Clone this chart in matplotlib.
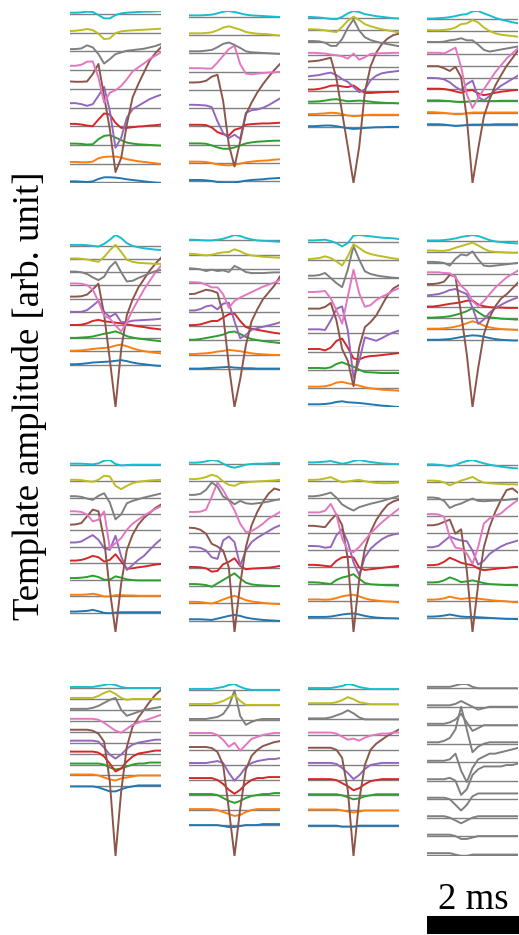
import numpy as np
import matplotlib.pyplot as plt

# time axis of each template (ms), 17 samples over 2 ms
t_ms = [0.0, 0.125, 0.25, 0.375, 0.5, 0.625, 0.75, 0.875, 1.0,
        1.125, 1.25, 1.375, 1.5, 1.625, 1.75, 1.875, 2.0]

channel_colors = ['tab:blue', 'tab:orange', 'tab:green', 'tab:red', 'tab:purple',
                  'tab:brown', 'tab:pink', 'tab:gray', 'tab:olive', 'tab:cyan']

# templates, one list per channel, bottom channel first (arb. unit)
r1c1 = [
    [3, 3, 2, 1, 3, 10, 15, 15, 14, 12, 9, 7, 5, 3, 1, -1, -2],
    [5, 5, 4, 4, 6, 16, 20, 21, 21, 18, 13, 10, 7, 5, 3, 1, -1],
    [4, 4, 3, 1, 2, 17, 27, 29, 22, 14, 7, 4, 2, 1, 0, -1, -2],
    [7, 7, 5, 2, 0, 20, 38, 35, 10, -5, -5, -3, -1, 0, 2, 3, 5],
    [13, 13, 10, 5, 10, 35, 62, -10, -120, -90, -30, -5, 5, 15, 25, 32, 38],
    [22, 21, 21, 22, 44, 74, -23, -120, -248, -206, -106, -26, 14, 49, 84, 106, 124],
    [13, 13, 16, 25, 26, -22, -97, -67, -60, -47, -27, -4, 8, 20, 33, 43, 53],
    [7, 7, 9, 18, 12, -8, -36, -23, -8, -3, 2, 4, 6, 8, 12, 16, 22],
    [5, 6, 8, 11, 8, -3, -19, -17, -1, 4, 6, 7, 8, 9, 10, 11, 12],
    [4, 4, 5, 7, 6, -3, -13, -13, -3, 2, 4, 5, 6, 7, 7, 8, 9],
]
r1c2 = [
    [4, 4, 4, 3, 1, -2, -4, -5, -4, -1, 2, 4, 5, 6, 8, 9, 10],
    [4, 4, 4, 3, 0, -4, -6, -7, -5, -2, 2, 4, 6, 7, 8, 10, 11],
    [4, 4, 4, 3, -2, -8, -12, -12, -8, -2, 4, 7, 9, 10, 11, 12, 12],
    [5, 5, 5, 4, -3, -17, -23, -27, -10, -5, 5, 7, 8, 9, 9, 10, 11],
    [10, 10, 9, 8, 3, -39, -74, -89, -79, -91, -14, -6, -4, 1, 9, 19, 29],
    [22, 22, 23, 27, 39, 45, -33, -163, -228, -153, -73, -38, -8, 17, 39, 59, 77],
    [10, 10, 10, 9, 9, 27, 47, 67, 77, 22, -6, -8, -6, -4, -3, -2, -1],
    [6, 6, 6, 8, 10, 18, 28, 32, 25, 16, 6, 3, 2, 1, 0, -1, -2],
    [5, 5, 5, 6, 8, 14, 22, 26, 21, 16, 9, 6, 4, 3, 2, 0, -2],
    [4, 4, 4, 5, 6, 10, 15, 17, 14, 10, 6, 4, 3, 2, 1, 0, -1],
]
r1c3 = [
    [3, 3, 4, 5, 5, 3, 0, -3, -5, -4, -2, -1, 0, 0, 1, 1, 1],
    [3, 3, 4, 5, 7, 6, 3, -1, -3, -2, 0, 1, 1, 1, 1, 1, 1],
    [4, 4, 5, 7, 10, 11, 8, 5, 6, 7, 6, 4, 2, 1, 0, 0, -1],
    [4, 4, 6, 10, 15, 16, 13, 11, 16, 4, -6, -6, -5, -4, -3, -3, -2],
    [7, 9, 11, 15, 18, 11, -1, -9, -24, -39, -31, -4, 9, 16, 19, 21, 23],
    [15, 16, 18, 22, 26, -34, -134, -234, -339, -234, -74, 1, 41, 66, 82, 92, 96],
    [5, 5, 4, 3, 0, -2, -5, -12, 3, -15, -8, 2, 3, 4, 4, 5, 5],
    [4, 4, 3, -1, -10, -10, 10, 43, 67, 35, 15, 7, 2, -2, -5, -8, -11],
    [3, 3, 2, 0, -3, -5, 10, 28, 40, 30, 18, 12, 7, 3, 0, -3, -6],
    [4, 3, 2, 0, -2, -3, 4, 14, 21, 18, 12, 9, 6, 4, 2, 0, -1],
]
r1c4 = [
    [1, 1, 1, 0, -2, -4, -3, -1, 0, 0, 0, 0, 1, 1, 1, 1, 1],
    [2, 2, 1, 0, -2, -4, -4, -1, 1, 1, 1, 1, 1, 1, 1, 1, 1],
    [2, 2, 2, 1, 0, -2, -3, -2, 0, 1, 0, 0, 0, 1, 1, 1, 1],
    [2, 2, 2, 1, -2, -6, -10, -4, -2, -12, -17, -14, -10, -7, -5, -3, -2],
    [-1, -1, -2, -5, -14, -27, -37, -19, -9, -57, -67, -54, -37, -24, -14, -4, 6],
    [-1, -1, -1, -7, -15, -3, -33, -153, -343, -243, -148, -98, -58, -28, 0, 22, 45],
    [4, 4, 4, 2, 10, 19, -38, -118, -158, -128, -103, -78, -53, -33, -13, 2, 17],
    [1, 1, 1, 2, 6, 8, 12, 6, 6, -7, -22, -27, -24, -21, -18, -15, -12],
    [2, 1, 1, 2, 4, 9, 19, 21, 31, 24, 9, -1, -8, -12, -14, -16, -18],
    [1, 1, 2, 3, 5, 8, 12, 14, 22, 23, 16, 10, 3, -2, -6, -10, -13],
]
r2c1 = [
    [1, 1, 2, 4, 6, 7, 8, 9, 11, 13, 10, 6, 3, 1, -1, -3, -4],
    [2, 2, 3, 5, 7, 9, 10, 12, 17, 20, 15, 9, 4, 1, -2, -4, -6],
    [1, 1, 2, 3, 5, 9, 13, 16, 20, 14, 6, 2, -1, -3, -5, -7, -9],
    [0, 0, 1, 5, 12, 15, 11, 9, 7, 5, 2, -1, -4, -6, -9, -11, -13],
    [0, 0, 0, 5, 18, 32, 0, -15, -5, -30, -30, -26, -25, -24, -23, -22, -20],
    [6, 6, 7, 12, 27, 44, -47, -179, -318, -148, -48, -3, 32, 57, 82, 102, 120],
    [6, 6, 5, 1, -12, -47, -89, -97, -117, -135, -107, -72, -42, -12, 13, 38, 58],
    [2, 2, 0, -5, -15, -23, -13, 15, 31, 0, -27, -25, -17, -10, -3, 3, 7],
    [2, 2, 1, -1, -5, -8, 6, 26, 42, 21, -2, -8, -11, -12, -13, -14, -14],
    [3, 3, 3, 2, 0, -2, 6, 18, 32, 23, 8, 0, -4, -7, -9, -11, -12],
]
r2c2 = [
    [1, 1, 1, 2, 3, 4, 5, 6, 4, 3, 2, 2, 1, 1, 1, 1, 1],
    [2, 2, 3, 4, 6, 9, 11, 14, 12, 10, 7, 4, 2, 1, 0, -1, -1],
    [2, 2, 4, 7, 10, 13, 17, 24, 26, 19, 10, 4, 1, -2, -4, -6, -8],
    [3, 3, 5, 10, 15, 15, 25, 35, 37, 15, -3, -8, -11, -14, -17, -20, -22],
    [4, 4, 8, 16, 19, 7, 24, 27, -28, -78, -68, -53, -48, -44, -40, -36, -31],
    [10, 11, 17, 23, 20, 14, -50, -200, -322, -240, -140, -70, -35, -5, 15, 35, 62],
    [3, 3, 2, -4, -12, -12, -32, -72, -52, -42, -34, -26, -18, -10, -4, 2, 10],
    [2, 1, -1, -6, -2, -6, -4, -9, 9, 1, -9, -12, -12, -12, -11, -10, -10],
    [3, 2, 0, -2, 0, 4, 7, 8, 16, 10, 2, -2, -4, -6, -7, -8, -9],
    [2, 2, 1, 0, 0, 2, 5, 10, 16, 13, 7, 3, 0, -1, -2, -3, -4],
]
r2c3 = [
    [7, 7, 7, 8, 10, 14, 16, 13, 12, 11, 9, 7, 5, 3, 2, 0, -1],
    [5, 5, 5, 6, 10, 17, 19, 15, 12, 8, 3, 0, -2, -4, -5, -6, -7],
    [6, 6, 6, 5, 8, 18, 23, 16, 10, 1, -6, -7, -8, -9, -9, -9, -9],
    [8, 8, 8, 4, 12, 32, 39, 12, -20, -23, -16, -13, -12, -10, -8, -6, -4],
    [12, 12, 12, 10, 38, 73, 80, 8, -132, -82, -12, -17, -22, -14, -5, 3, 8],
    [19, 19, 19, 24, 36, -16, -101, -136, -211, -96, -36, -21, -1, 29, 59, 79, 89],
    [14, 14, 15, 17, -5, -40, -80, 0, 80, 10, -30, -25, -10, 0, 8, 18, 25],
    [8, 8, 10, 16, 1, -14, -26, 26, 96, 56, 21, 13, 9, 6, 4, 2, 1],
    [3, 4, 6, 11, 6, -4, -16, 11, 47, 36, 24, 18, 14, 11, 8, 5, 3],
    [4, 4, 5, 6, 2, -4, -14, -4, 18, 20, 18, 16, 14, 12, 11, 10, 8],
]
r2c4 = [
    [2, 2, 2, 3, 4, 7, 10, 13, 15, 14, 11, 7, 4, 2, 1, 0, 0],
    [2, 2, 2, 3, 5, 8, 12, 18, 24, 19, 11, 6, 3, 1, 0, -1, -2],
    [2, 2, 3, 4, 6, 10, 15, 21, 30, 18, 7, 3, 1, -1, -2, -3, -4],
    [2, 2, 4, 7, 10, 12, 15, 19, 20, 8, 3, 0, -1, -1, -2, -2, -2],
    [2, 4, 6, 11, 18, 21, 13, 6, -34, -82, -69, -49, -36, -26, -17, -10, -4],
    [3, 3, 5, 10, 30, 25, -85, -205, -360, -245, -145, -95, -63, -40, -27, -10, 7],
    [5, 5, 5, 3, 2, -10, -35, -50, -80, -95, -80, -60, -40, -25, -10, 0, 10],
    [3, 3, 2, 0, -8, 12, 25, 22, 34, 10, -8, -10, -8, -6, -4, -2, 0],
    [4, 4, 3, 3, 6, 12, 17, 22, 27, 19, 9, 2, 0, -1, -2, -3, -3],
    [1, 1, 1, 2, 4, 7, 11, 14, 17, 14, 8, 2, -2, -4, -6, -7, -8],
]
r3c1 = [
    [3, 3, 4, 5, 8, 4, -1, -2, 0, 1, 1, 1, 1, 1, 1, 1, 1],
    [4, 4, 4, 5, 7, 4, -1, -1, 3, 3, 2, 2, 1, 1, 1, 1, 1],
    [5, 5, 6, 8, 12, 8, 0, 0, 10, 6, 1, -1, -2, -2, -2, -2, -2],
    [8, 8, 10, 15, 22, 18, 5, 10, 27, 5, -16, -15, -12, -10, -7, -4, -2],
    [13, 13, 16, 26, 35, 21, -4, -9, 33, -29, -69, -54, -39, -27, -9, 8, 23],
    [17, 18, 22, 42, 62, 57, -28, -178, -303, -158, -58, -13, 17, 37, 52, 67, 77],
    [8, 8, 6, -2, -22, -17, 8, -102, -87, -72, -47, -29, -17, -5, 5, 15, 23],
    [4, 4, 2, -3, -7, 5, 13, -15, -65, -50, -17, -10, -5, 0, 4, 8, 12],
    [4, 4, 3, 0, -2, 4, 16, 14, -14, -24, -14, -6, -2, 0, 2, 3, 4],
    [3, 3, 3, 2, 1, 4, 12, 14, 2, -2, -1, 0, 0, 0, 0, 0, 0],
]
r3c2 = [
    [4, 4, 4, 3, 2, 6, 10, 14, 17, 14, 9, 6, 4, 2, 1, 0, -1],
    [4, 4, 3, 1, -1, 4, 11, 17, 22, 16, 9, 5, 3, 1, -1, -2, -3],
    [5, 5, 4, 2, -3, 7, 17, 27, 37, 22, 9, 4, 2, 1, 0, -1, -1],
    [4, 4, 3, 0, -10, -8, 12, 19, 30, 7, -3, -1, 0, 1, 2, 4, 7],
    [11, 11, 9, 1, -19, -24, 31, 43, 26, -44, 1, 26, 39, 49, 59, 69, 76],
    [17, 16, 11, -1, -31, -39, -51, -101, -294, -151, -41, 24, 64, 94, 119, 134, 129],
    [12, 12, 13, 19, 57, 100, 77, 47, 17, -23, -48, -45, -35, -23, -8, 2, 12],
    [11, 11, 14, 26, 48, 36, 6, -4, -17, -7, -14, -16, -14, -12, -9, -5, -2],
    [6, 6, 8, 12, 19, 14, -1, -11, -14, -6, -4, -2, -1, 0, 1, 2, 4],
    [3, 3, 4, 7, 11, 9, 0, -8, -12, -8, -3, -1, 0, 0, 1, 2, 2],
]
r3c3 = [
    [4, 4, 4, 4, 5, 8, 11, 13, 14, 11, 7, 4, 2, 1, 0, 0, -1],
    [5, 5, 5, 4, 5, 9, 14, 17, 19, 14, 8, 4, 2, 0, -1, -2, -4],
    [5, 5, 4, 2, 0, 12, 19, 23, 29, 15, 3, -1, -2, -3, -4, -4, -5],
    [6, 6, 5, 3, 1, 18, 28, 30, 28, -2, -9, -7, -5, -3, -1, 1, 3],
    [11, 11, 10, 6, 8, 43, 60, 23, -37, -75, -22, 3, 18, 31, 40, 45, 48],
    [20, 20, 18, 16, 37, 54, 22, -78, -293, -138, -48, 2, 37, 62, 82, 92, 97],
    [9, 9, 9, 14, 34, 2, -68, -103, -108, -93, -73, -53, -36, -20, -6, 7, 20],
    [6, 6, 8, 12, 17, 2, -18, -28, -36, -26, -21, -16, -12, -8, -3, 2, 7],
    [4, 4, 5, 8, 12, 4, -3, -1, 2, 4, 0, -3, -5, -6, -6, -5, -4],
    [5, 5, 6, 7, 9, 5, 1, 4, 9, 12, 9, 6, 4, 2, 1, 0, 0],
]
r3c4 = [
    [3, 3, 4, 6, 9, 6, 3, 2, 2, 1, 0, -1, -2, -3, -4, -4, -5],
    [3, 3, 4, 7, 12, 8, 5, 7, 8, 6, 4, 2, 0, -1, -2, -4, -5],
    [4, 4, 5, 10, 19, 13, 5, 7, 10, 6, 2, -1, -2, -3, -4, -4, -5],
    [5, 5, 7, 15, 27, 20, 12, 8, 5, -5, -10, -8, -6, -4, -3, -1, 0],
    [8, 8, 12, 26, 40, 33, 28, 26, -2, -44, -32, -12, 0, 10, 18, 23, 28],
    [23, 23, 26, 33, 40, -2, 11, -112, -295, -152, -42, 18, 63, 98, 128, 133, 120],
    [6, 6, 5, -2, -62, -94, -97, -112, -142, -92, -22, -7, 1, 8, 23, 36, 48],
    [5, 5, 3, -5, -26, -18, -13, -5, 2, -5, -6, -5, -4, -3, -2, 0, 2],
    [5, 5, 4, 0, -9, -2, 5, 10, 16, 6, -1, -3, -4, -5, -6, -6, -7],
    [3, 3, 2, 0, -3, 1, 8, 13, 16, 11, 6, 2, -1, -4, -6, -8, -9],
]
r4c1 = [
    [0, 0, 0, 0, 0, -1, -3, -5, -5, -3, -1, 0, 1, 1, 1, 1, 1],
    [1, 1, 1, 1, 1, 0, -2, -4, -5, -3, -2, -1, 0, 0, 0, 0, 0],
    [1, 1, 1, 1, 1, 1, 0, -3, -5, -4, -2, 0, 1, 1, 2, 2, 2],
    [2, 2, 2, 2, 2, 1, -3, -10, -18, -15, -8, -3, 0, 1, 2, 3, 3],
    [2, 2, 2, 2, 2, 1, -5, -12, -16, -12, -6, -2, 0, 1, 2, 3, 3],
    [2, 2, 2, 2, 1, -2, -10, -50, -125, -60, -15, 5, 14, 22, 30, 37, 42],
    [2, 2, 2, 2, 2, 1, -2, -6, -10, -12, -8, -4, -2, 0, 2, 4, 6],
    [1, 1, 1, 1, 2, 4, 7, 10, 12, 0, -6, -4, -2, 0, 1, 2, 3],
    [1, 1, 1, 1, 1, 3, 6, 8, 5, 1, -1, 0, 0, 0, 0, 0, 0],
    [1, 1, 1, 1, 1, 2, 3, 4, 3, 1, 0, 0, 0, 0, 0, 0, 0],
]
r4c2 = [
    [0, 0, 0, 0, 0, 0, -1, -2, -2, -1, 0, 0, 0, 1, 1, 1, 1],
    [1, 1, 1, 1, 1, 0, -2, -4, -6, -5, -2, 0, 1, 1, 1, 1, 1],
    [1, 1, 1, 1, 1, 0, -3, -6, -8, -6, -3, -1, 0, 1, 1, 2, 2],
    [2, 2, 2, 2, 2, 0, -4, -10, -14, -10, -4, 0, 2, 2, 3, 3, 3],
    [2, 2, 2, 2, 3, 4, 2, -8, -16, -10, -2, 2, 4, 5, 6, 6, 7],
    [3, 3, 3, 3, 2, -2, -15, -60, -108, -60, -20, -6, 0, 4, 6, 8, 9],
    [2, 2, 2, 2, 2, 0, -5, -12, -8, -16, -10, -4, -2, 0, 1, 2, 2],
    [1, 1, 1, 1, 2, 3, 6, 14, 30, 4, -5, -2, 0, 1, 1, 1, 1],
    [1, 1, 1, 1, 1, 2, 4, 7, 10, 4, 0, 0, 0, 0, 0, 0, 0],
    [1, 1, 1, 1, 1, 2, 3, 5, 6, 3, 1, 0, 0, 0, 0, 0, 0],
]
r4c3 = [
    [0, 0, 0, 0, 0, 0, -1, -1, -1, 0, 0, 0, 0, 0, 0, 0, 0],
    [1, 1, 1, 1, 1, 1, 0, -1, -2, -1, 0, 0, 0, 0, 0, 0, 0],
    [1, 1, 1, 1, 1, 1, 0, -2, -4, -3, -1, 0, 1, 1, 1, 1, 1],
    [1, 1, 1, 1, 1, 0, -3, -6, -10, -8, -4, -1, 0, 1, 1, 1, 1],
    [2, 2, 2, 2, 2, 1, -3, -8, -14, -10, -4, 0, 1, 2, 2, 2, 2],
    [2, 2, 2, 2, 2, 0, -8, -40, -105, -50, -15, 0, 6, 10, 14, 17, 20],
    [2, 2, 2, 2, 2, 1, -2, -5, -4, -6, -3, -1, 0, 1, 1, 2, 2],
    [1, 1, 1, 1, 2, 4, 6, 9, 6, 2, 0, 0, 0, 0, 0, 0, 0],
    [1, 1, 1, 1, 1, 2, 4, 7, 5, 2, 1, 0, 0, 0, 0, 0, 0],
    [1, 1, 1, 1, 1, 2, 3, 5, 4, 2, 1, 0, 0, 0, 0, 0, 0],
]
r4c4 = [
    [1, 1, 1, 1, 1, 0, -1, -1, 0, 0, 0, 0, 0, 0, 0, 0, 0],
    [1, 1, 1, 1, 1, 0, -2, -2, -1, 0, 0, 0, 0, 0, 0, 0, 0],
    [1, 1, 1, 1, 0, -2, -4, -2, 0, 1, 1, 1, 1, 1, 1, 1, 1],
    [1, 1, 1, 1, 0, -4, -8, -4, 2, 4, 4, 4, 4, 4, 4, 4, 4],
    [1, 1, 1, 1, 2, 0, -10, -6, 4, 8, 10, 10, 10, 10, 11, 11, 12],
    [1, 1, 1, 1, 2, 6, -6, -14, -4, 2, 4, 6, 6, 7, 8, 9, 10],
    [1, 1, 1, 2, 4, 10, 26, 10, -6, -2, 0, 1, 1, 1, 1, 1, 1],
    [1, 1, 1, 1, 2, 4, 8, 2, -4, -2, 0, 0, 0, 0, 0, 0, 0],
    [1, 1, 1, 1, 1, 2, 4, 2, 0, -2, -1, 0, 0, 0, 0, 0, 0],
    [1, 1, 1, 1, 1, 2, 3, 3, 1, 0, 0, 0, 0, 0, 0, 0, 0],
]

panels = [[r1c1, r1c2, r1c3, r1c4],
          [r2c1, r2c2, r2c3, r2c4],
          [r3c1, r3c2, r3c3, r3c4],
          [r4c1, r4c2, r4c3, r4c4]]

# vertical spacing between channels in each panel (same unit as the templates)
spacing = [[55.7, 54.4, 35.3, 34.4],
           [38.7, 42.0, 54.4, 32.7],
           [49.0, 52.0, 50.5, 50.4],
           [11.0, 15.3, 15.0, 13.0]]

scale_ms = 2

W, H = 519, 935
fig = plt.figure(figsize=(W / 100, H / 100), dpi=100)

col_left = [70, 189, 308, 427]
row_top = [11, 235, 460, 684]
ax_w, ax_h = 91, 172

for r in range(4):
    for c in range(4):
        ax = fig.add_axes([col_left[c] / W, 1 - (row_top[r] + ax_h) / H, ax_w / W, ax_h / H])
        for i, trace in enumerate(panels[r][c]):
            off = i * spacing[r][c]
            ax.axhline(off, color='0.5', lw=1.0, zorder=1)
            col = 'tab:gray' if (r == 3 and c == 3) else channel_colors[i]
            ax.plot(t_ms, np.array(trace) + off, color=col, lw=1.4, zorder=2)
        ax.set_xlim(0, 2)
        ax.margins(x=0, y=0)
        ax.axis('off')

fig.text(30 / W, 1 - 396 / H, 'Template amplitude [arb. unit]', rotation=90,
         ha='center', va='center', fontsize=26.5, family='Liberation Serif')

sb = fig.add_axes([427 / W, 1 - 935 / H, 92 / W, 60 / H])
sb.plot([0, scale_ms], [0, 0], color='black', lw=13, solid_capstyle='butt')
sb.text(scale_ms / 2, 1.3, f'{scale_ms} ms', ha='center', va='center',
        fontsize=26.5, family='Liberation Serif')
sb.set_xlim(0, scale_ms)
sb.set_ylim(-0.5, 2.6)
sb.axis('off')

fig.savefig('out.png', dpi=100)
